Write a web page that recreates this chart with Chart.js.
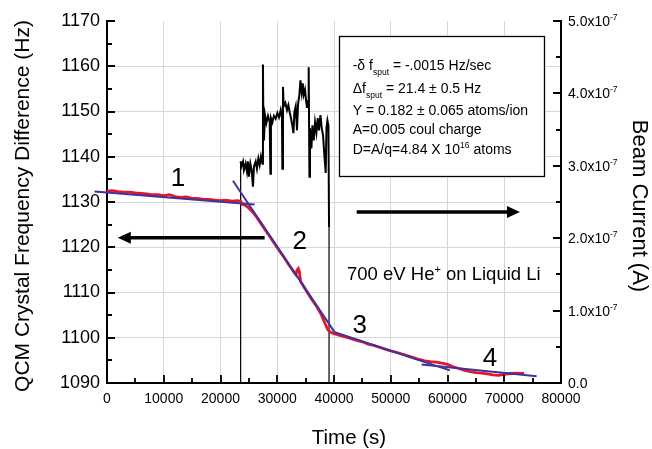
<!DOCTYPE html>
<html>
<head>
<meta charset="utf-8">
<title>QCM sputter yield</title>
<script src="https://cdn.jsdelivr.net/npm/chart.js@4.4.1/dist/chart.umd.min.js"></script>
<style>
  html, body { margin: 0; padding: 0; background: #fff; }
  #chart { display: block; }
</style>
</head>
<body>
<canvas id="chart" width="652" height="449"></canvas>
<script>
// QCM crystal frequency difference (Hz) vs time (s)
const qcmTime = [0, 1000, 2000, 3000, 4000, 5000, 6000, 7000, 8000, 9000,
  10000, 11000, 12000, 13000, 14000, 15000, 16000, 17000, 18000, 19000,
  20000, 21000, 22000, 23000, 23600, 23800, 24300, 24800, 25400, 26000,
  27000, 28000, 29000, 30000, 31000, 32000, 33000, 33300, 33500, 33700,
  33900, 34100, 35000, 36000, 37000, 37800, 38400, 38900, 39400, 40000,
  40600, 41000, 42000, 43000, 44000, 45000, 46000, 47000, 48000, 49000,
  50000, 51000, 52000, 53000, 54000, 55000, 56000, 57000, 58000, 59000,
  60000, 61000, 62000, 63000, 64000, 65000, 66000, 67000, 68000, 69000,
  70000, 71000, 72000, 73000, 73500];
const qcmFreq = [1132.4, 1132.5, 1132.3, 1132.2, 1132.2, 1132.0, 1131.9, 1131.8, 1131.6, 1131.6,
  1131.4, 1131.6, 1131.2, 1131.0, 1131.1, 1130.8, 1130.8, 1130.6, 1130.6, 1130.4,
  1130.3, 1130.4, 1130.2, 1130.3, 1130.1, 1129.5, 1129.3, 1128.9, 1128.1, 1127.3,
  1125.5, 1123.6, 1121.8, 1119.9, 1118.1, 1116.2, 1114.4, 1113.9, 1115.0, 1115.3,
  1114.6, 1112.5, 1110.6, 1108.6, 1106.8, 1105.0, 1103.2, 1101.8, 1101.2, 1100.9,
  1100.7, 1100.5, 1100.2, 1099.8, 1099.4, 1099.1, 1098.6, 1098.3, 1097.9, 1097.5,
  1097.1, 1096.8, 1096.4, 1096.0, 1095.6, 1095.2, 1094.9, 1094.7, 1094.6, 1094.4,
  1094.1, 1093.6, 1093.2, 1092.8, 1092.5, 1092.3, 1092.2, 1092.0, 1091.8, 1091.7,
  1091.9, 1092.1, 1092.2, 1092.1, 1092.2];

// ion beam current (A) while the beam is on
const beamTime = [23550, 23550, 23670, 23960, 24130, 24430, 24660, 24840, 25010, 25260,
  25490, 25720, 25900, 26200, 26420, 26670, 26900, 27130, 27380, 27480,
  27550, 27660, 27840, 28080, 28370, 28670, 28790, 28890, 29140, 29420,
  29720, 30020, 30310, 30610, 30830, 30900, 31010, 31130, 31430, 31720,
  31960, 32190, 32420, 32670, 32850, 33020, 33250, 33480, 33660, 33900,
  34080, 34310, 34490, 34660, 34890, 35070, 35240, 35420, 35540, 35670,
  35770, 36020, 36200, 36430, 36660, 36900, 37130, 37360, 37610, 37840,
  38070, 38310, 38540, 38670, 38840, 39020, 39125, 39125];
const beamCurrent = [0, 3.06e-7, 2.99e-7, 3.06e-7, 2.94e-7, 3.03e-7, 2.92e-7, 3.06e-7, 2.85e-7, 3.03e-7,
  2.94e-7, 2.71e-7, 2.99e-7, 3.06e-7, 2.96e-7, 3.10e-7, 3.01e-7, 3.13e-7, 3.03e-7, 4.40e-7,
  3.63e-7, 3.35e-7, 3.70e-7, 3.59e-7, 3.69e-7, 3.60e-7, 2.89e-7, 3.66e-7, 3.60e-7, 3.69e-7,
  3.65e-7, 3.73e-7, 3.67e-7, 3.77e-7, 3.66e-7, 2.96e-7, 4.09e-7, 3.82e-7, 3.87e-7, 3.77e-7,
  3.84e-7, 3.74e-7, 3.66e-7, 3.55e-7, 3.45e-7, 3.74e-7, 3.82e-7, 3.49e-7, 3.85e-7, 3.98e-7,
  4.18e-7, 4.01e-7, 4.14e-7, 3.98e-7, 4.05e-7, 3.91e-7, 3.80e-7, 3.87e-7, 4.36e-7, 2.85e-7,
  3.52e-7, 3.24e-7, 3.56e-7, 3.35e-7, 3.60e-7, 3.46e-7, 3.66e-7, 3.49e-7, 3.70e-7, 3.52e-7,
  3.42e-7, 3.14e-7, 2.90e-7, 3.52e-7, 3.63e-7, 3.56e-7, 2.15e-7, 0];

// straight-line fits for regions 1-4 (start/end)
const fitTime = [[-2200, 26000], [22190, 40130], [40130, 60420], [55430, 75710]];
const fitFreq = [[1132.3, 1129.45], [1134.7, 1101.2], [1101.2, 1092.8], [1094.1, 1091.5]];

// axis ticks
const timeTicks = [0, 10000, 20000, 30000, 40000, 50000, 60000, 70000, 80000];
const freqTicks = [1090, 1100, 1110, 1120, 1130, 1140, 1150, 1160, 1170];
const currentTicks = [0, 1e-7, 2e-7, 3e-7, 4e-7, 5e-7];
const currentTickLabels = ['0.0', '1.0x10', '2.0x10', '3.0x10', '4.0x10', '5.0x10'];

// region numbers and arrows, in data units
const regionLabels = ['1', '2', '3', '4'];
const regionAt = [[12520, 1135.2], [33960, 1121.1], [44540, 1102.7], [67470, 1095.4]];
const arrows = [
  { from: [27780, 1122.1], to: [1900, 1122.1] },
  { from: [44000, 1127.8], to: [72760, 1127.8] }
];

const FONT = '"Liberation Sans", Arial, Helvetica, sans-serif';
const RED = 'rgb(230, 22, 42)';
const BLUE = 'rgb(62, 50, 160)';
const GRID = '#d6d6d6';

function pairs(xs, ys) {
  return xs.map((x, i) => ({ x: x, y: ys[i] }));
}

// text with sub/superscript pieces
function drawRuns(ctx, runs, x, y) {
  for (const r of runs) {
    ctx.font = r.size + 'px ' + FONT;
    ctx.fillText(r.t, x, y + (r.dy || 0));
    x += ctx.measureText(r.t).width;
  }
  return x;
}

const decor = {
  id: 'decor',
  afterDatasetsDraw(chart) {
    const { ctx, chartArea: a, scales } = chart;
    const x = scales.x, y = scales.y, y2 = scales.y2;
    ctx.save();

    // inward tick marks, major + minor
    ctx.strokeStyle = '#000';
    ctx.lineWidth = 1.8;
    ctx.beginPath();
    for (let v = 0; v <= 80000; v += 5000) {
      const px = Math.round(x.getPixelForValue(v));
      const len = v % 10000 === 0 ? 8 : 5;
      ctx.moveTo(px, a.bottom);
      ctx.lineTo(px, a.bottom - len);
    }
    for (let v = 1090; v <= 1170; v += 5) {
      const py = Math.round(y.getPixelForValue(v));
      const len = v % 10 === 0 ? 8 : 5;
      ctx.moveTo(a.left, py);
      ctx.lineTo(a.left + len, py);
    }
    for (let i = 0; i <= 10; i++) {
      const py = Math.round(y2.getPixelForValue(i * 0.5e-7));
      const len = i % 2 === 0 ? 8 : 5;
      ctx.moveTo(a.right, py);
      ctx.lineTo(a.right - len, py);
    }
    ctx.stroke();

    // arrows
    ctx.fillStyle = '#000';
    ctx.lineWidth = 3.5;
    for (const ar of arrows) {
      const x0 = x.getPixelForValue(ar.from[0]), y0 = y.getPixelForValue(ar.from[1]);
      const x1 = x.getPixelForValue(ar.to[0]), y1 = y.getPixelForValue(ar.to[1]);
      const dir = Math.sign(x1 - x0);
      ctx.beginPath();
      ctx.moveTo(x0, y0);
      ctx.lineTo(x1 - dir * 10, y1);
      ctx.stroke();
      ctx.beginPath();
      ctx.moveTo(x1, y1);
      ctx.lineTo(x1 - dir * 13, y1 - 6);
      ctx.lineTo(x1 - dir * 13, y1 + 6);
      ctx.closePath();
      ctx.fill();
    }

    // region numbers
    ctx.font = '26px ' + FONT;
    ctx.textAlign = 'center';
    ctx.textBaseline = 'middle';
    regionLabels.forEach((t, i) => {
      ctx.fillText(t, x.getPixelForValue(regionAt[i][0]), y.getPixelForValue(regionAt[i][1]));
    });

    // results box
    ctx.textAlign = 'left';
    ctx.textBaseline = 'alphabetic';
    ctx.fillStyle = '#fff';
    ctx.fillRect(339, 36, 205, 140);
    ctx.strokeStyle = '#000';
    ctx.lineWidth = 1.3;
    ctx.strokeRect(339.5, 36.5, 205, 140);
    ctx.fillStyle = '#000';
    const bx = 352.7;
    drawRuns(ctx, [{ t: '-\u03b4 f', size: 14 }, { t: 'sput', size: 8.5, dy: 4.5 }, { t: ' = -.0015 Hz/sec', size: 14 }], bx, 70);
    drawRuns(ctx, [{ t: '\u0394f', size: 14 }, { t: 'sput', size: 8.5, dy: 4.5 }, { t: ' = 21.4 \u00b1 0.5 Hz', size: 14 }], bx, 93);
    drawRuns(ctx, [{ t: 'Y = 0.182 \u00b1 0.065 atoms/ion', size: 14 }], bx, 115);
    drawRuns(ctx, [{ t: 'A=0.005 coul charge', size: 14 }], bx, 133.5);
    drawRuns(ctx, [{ t: 'D=A/q=4.84 X 10', size: 14 }, { t: '16', size: 8.5, dy: -6 }, { t: ' atoms', size: 14 }], bx, 153.5);

    // beam condition
    drawRuns(ctx, [{ t: '700 eV He', size: 18.5 }, { t: '+', size: 11, dy: -7 }, { t: ' on Liquid Li', size: 18.5 }], 347, 280);

    // right axis labels with exponent
    currentTicks.forEach((v, i) => {
      const py = y2.getPixelForValue(v) + 5;
      const end = drawRuns(ctx, [{ t: currentTickLabels[i], size: 14 }], a.right + 7, py);
      if (v > 0) drawRuns(ctx, [{ t: '-7', size: 8.5, dy: -6 }], end, py);
    });

    // axis titles
    ctx.font = '20.5px ' + FONT;
    ctx.textAlign = 'center';
    ctx.textBaseline = 'middle';
    ctx.fillText('Time (s)', 349, 438);
    ctx.save();
    ctx.translate(23, 206);
    ctx.rotate(-Math.PI / 2);
    ctx.font = '21px ' + FONT;
    ctx.fillText('QCM Crystal Frequency Difference (Hz)', 0, 0);
    ctx.restore();
    ctx.save();
    ctx.translate(639, 206);
    ctx.rotate(Math.PI / 2);
    ctx.font = '22px ' + FONT;
    ctx.fillText('Beam Current (A)', 0, 0);
    ctx.restore();

    ctx.restore();
  }
};

const fitSets = fitTime.map((ts, i) => ({
  data: pairs(ts, fitFreq[i]),
  yAxisID: 'y',
  borderColor: BLUE,
  borderWidth: 2,
  pointRadius: 0,
  clip: { left: 14, top: 0, right: 0, bottom: 0 }
}));

new Chart(document.getElementById('chart'), {
  type: 'line',
  data: {
    datasets: [
      ...fitSets,
      {
        data: pairs(qcmTime, qcmFreq),
        yAxisID: 'y',
        borderColor: RED,
        borderWidth: 2.8,
        pointRadius: 0
      },
      {
        data: pairs(beamTime, beamCurrent),
        yAxisID: 'y2',
        borderColor: '#000',
        borderWidth: 2,
        pointRadius: 0,
        // beam on/off edges are drawn thin
        segment: {
          borderWidth: c => (c.p0.parsed.x === c.p1.parsed.x ? 1.2 : 2)
        }
      }
    ]
  },
  options: {
    responsive: false,
    animation: false,
    events: [],
    layout: { padding: { top: 21, left: 0, right: 0, bottom: 0 } },
    plugins: { legend: { display: false }, tooltip: { enabled: false } },
    elements: { line: { tension: 0 } },
    scales: {
      x: {
        type: 'linear',
        min: 0,
        max: 80000,
        afterBuildTicks: s => { s.ticks = timeTicks.map(v => ({ value: v })); },
        afterFit: s => { s.height = 66; },
        ticks: {
          font: { family: FONT, size: 14 },
          color: '#000',
          padding: 8,
          maxRotation: 0,
          callback: v => String(v)
        },
        grid: {
          color: c => (c.tick && (c.tick.value === 0 || c.tick.value === 80000)) ? 'rgba(0,0,0,0)' : GRID,
          drawTicks: false
        },
        border: { display: true, color: '#000', width: 2 }
      },
      y: {
        position: 'left',
        min: 1090,
        max: 1170,
        afterBuildTicks: s => { s.ticks = freqTicks.map(v => ({ value: v })); },
        afterFit: s => { s.width = 107; },
        ticks: {
          font: { family: FONT, size: 18 },
          color: '#000',
          padding: 7,
          callback: v => String(v)
        },
        grid: {
          color: c => (c.tick && (c.tick.value === 1090 || c.tick.value === 1170)) ? 'rgba(0,0,0,0)' : GRID,
          drawTicks: false
        },
        border: { display: true, color: '#000', width: 2 }
      },
      y2: {
        position: 'right',
        min: 0,
        max: 5e-7,
        afterBuildTicks: s => { s.ticks = currentTicks.map(v => ({ value: v })); },
        afterFit: s => { s.width = 91; },
        ticks: { display: false },
        grid: { drawOnChartArea: false, drawTicks: false },
        border: { display: true, color: '#000', width: 2 }
      }
    }
  },
  plugins: [decor]
});
</script>
</body>
</html>
